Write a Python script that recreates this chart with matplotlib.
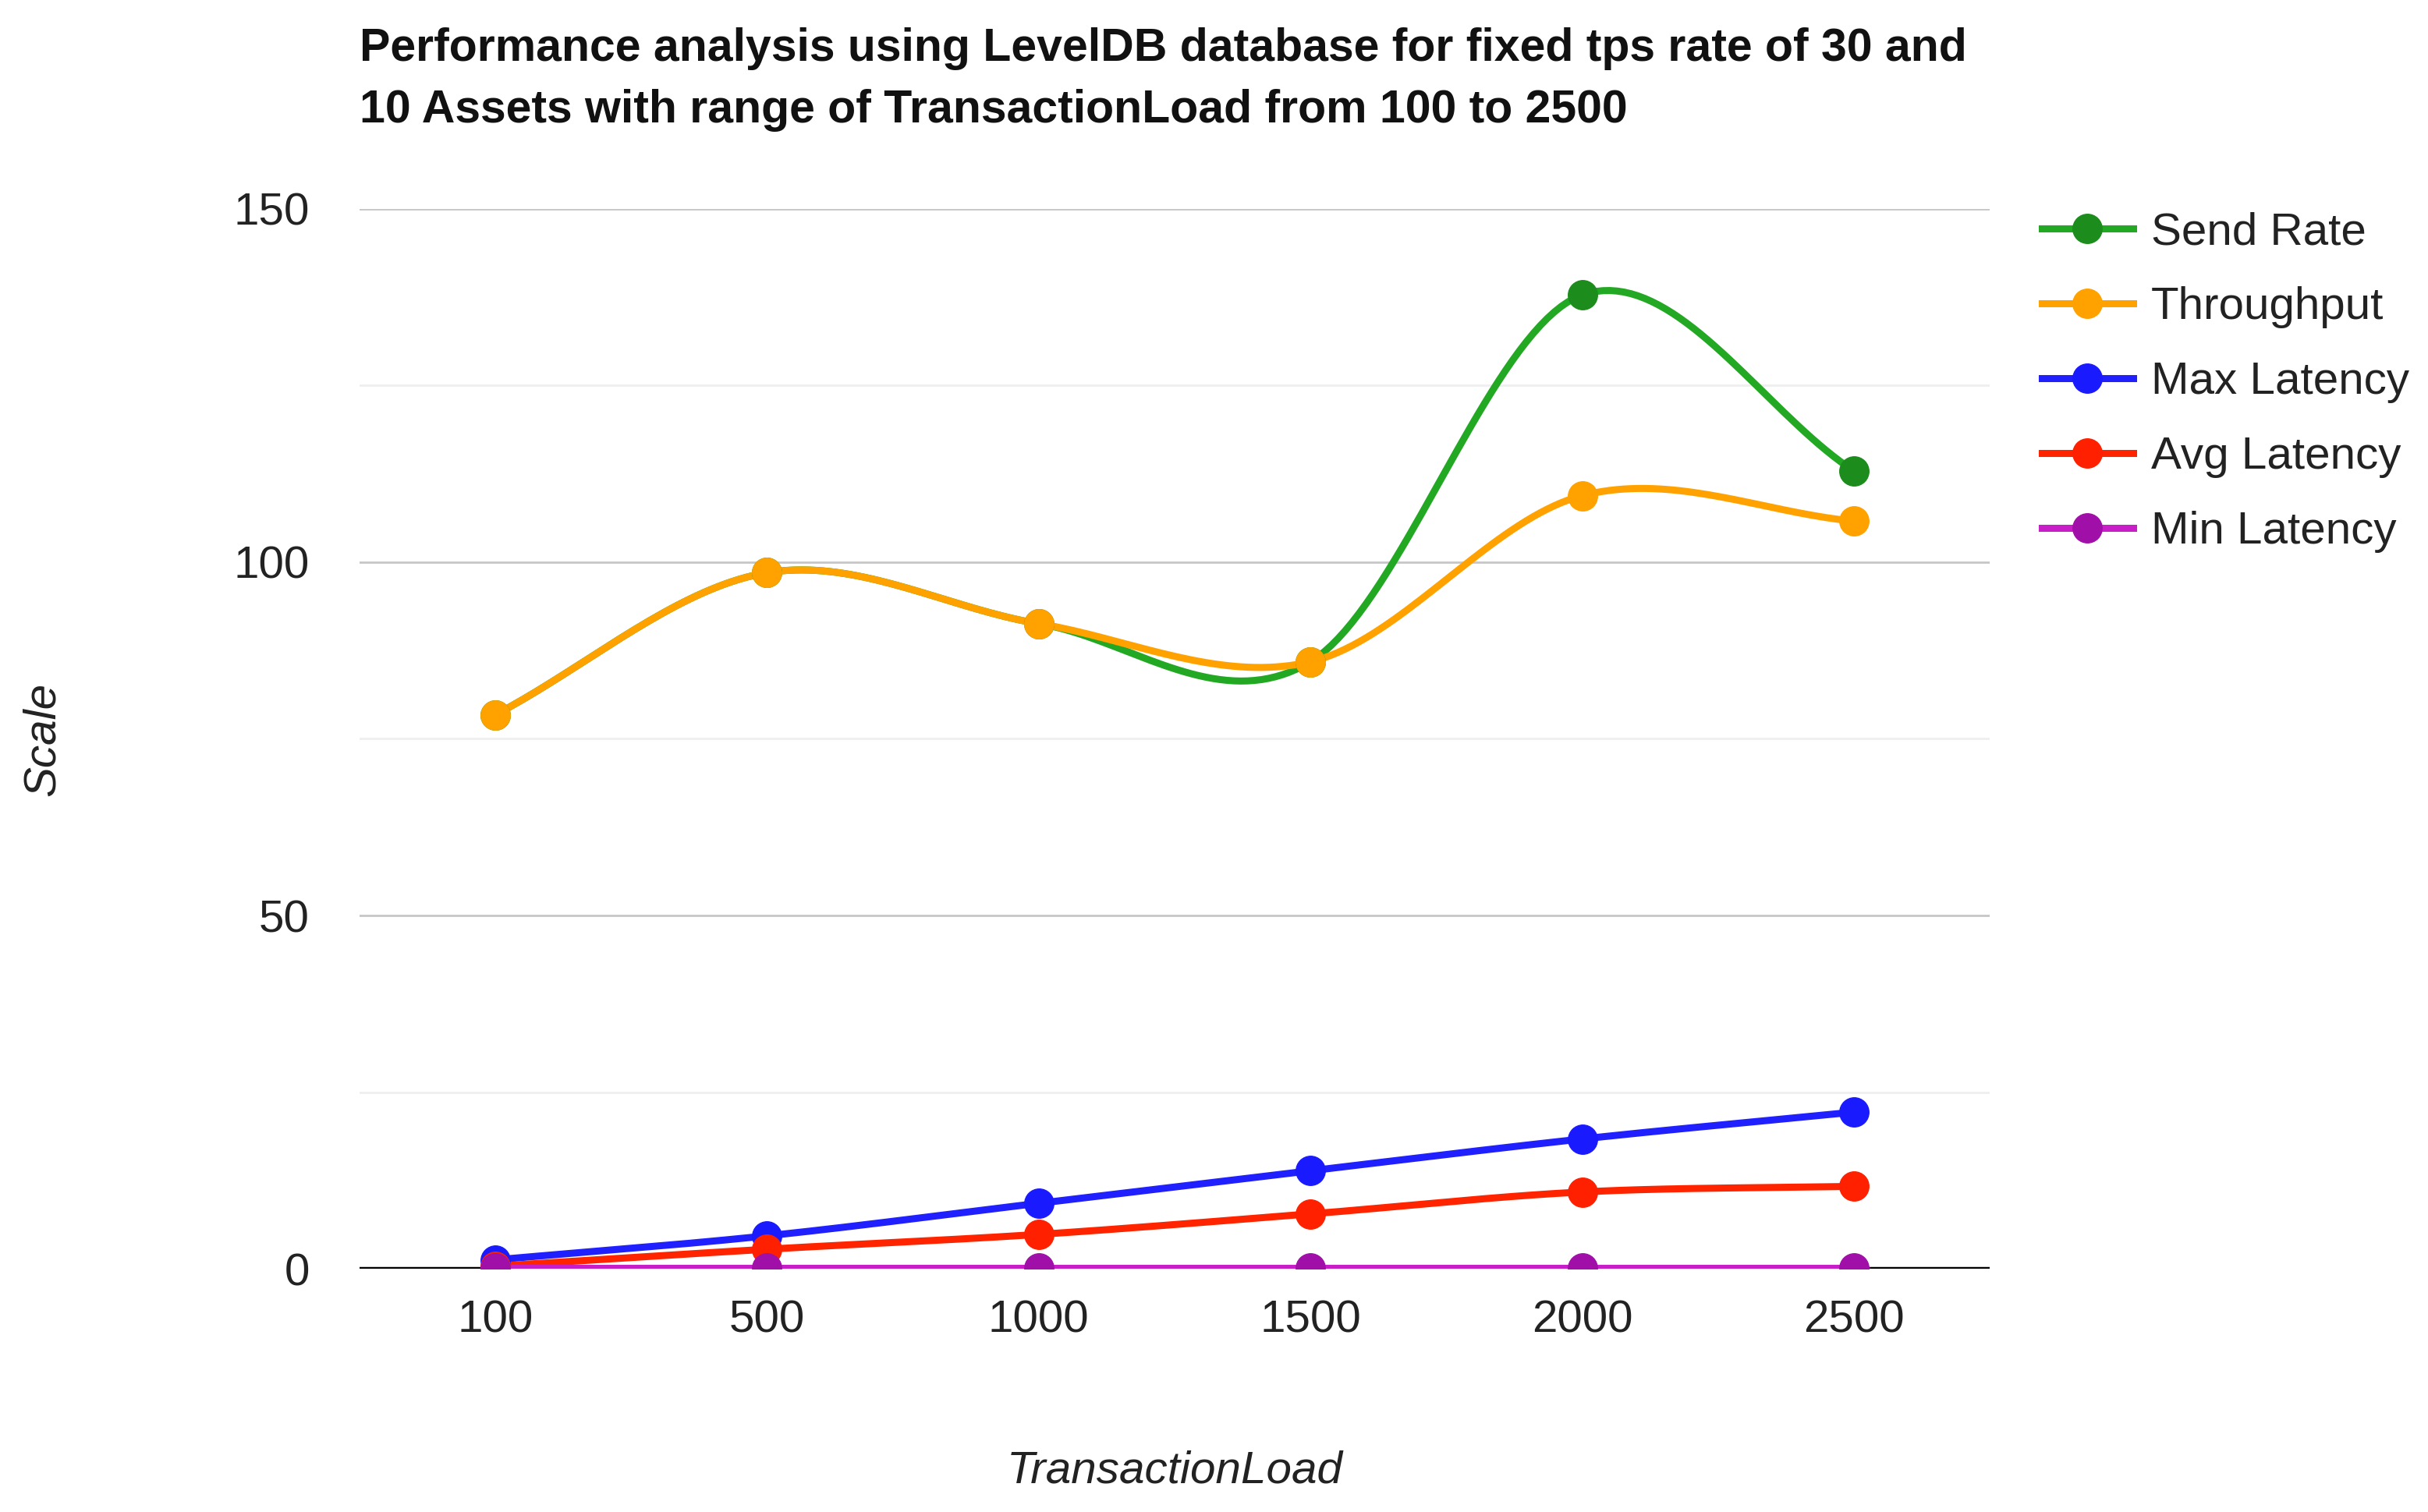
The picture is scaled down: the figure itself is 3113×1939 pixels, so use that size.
import numpy as np
import matplotlib
matplotlib.use('Agg')
import matplotlib.pyplot as plt

plt.rcParams['font.family'] = ['Liberation Sans', 'DejaVu Sans']

# data
loads = ['100', '500', '1000', '1500', '2000', '2500']
send_rate = [78.4, 98.5, 91.3, 85.9, 137.8, 112.9]
throughput = [78.4, 98.5, 91.3, 85.9, 109.4, 105.8]
max_latency = [1.3, 4.7, 9.3, 13.9, 18.4, 22.2]
avg_latency = [0.4, 2.8, 4.9, 7.8, 10.9, 11.7]
min_latency = [0.1, 0.1, 0.1, 0.1, 0.1, 0.1]

series = [
    ('Send Rate', send_rate, '#22a822', '#1c8c1c'),
    ('Throughput', throughput, '#ffa200', '#ffa200'),
    ('Max Latency', max_latency, '#2020ff', '#1a1aff'),
    ('Avg Latency', avg_latency, '#ff2400', '#ff2000'),
    ('Min Latency', min_latency, '#c81ec8', '#a010a8'),
]


def smooth(y, n=40):
    '''Catmull-Rom style curve through the points (like curveType function)'''
    y = np.asarray(y, dtype=float)
    x = np.arange(len(y), dtype=float)
    m = np.zeros_like(y)
    m[1:-1] = (y[2:] - y[:-2]) / 2
    m[0] = y[1] - y[0]
    m[-1] = y[-1] - y[-2]
    xs, ys = [], []
    for i in range(len(y) - 1):
        t = np.linspace(0, 1, n)
        h00 = 2 * t**3 - 3 * t**2 + 1
        h10 = t**3 - 2 * t**2 + t
        h01 = -2 * t**3 + 3 * t**2
        h11 = t**3 - t**2
        xs.append(x[i] + t)
        ys.append(h00 * y[i] + h10 * m[i] + h01 * y[i + 1] + h11 * m[i + 1])
    return np.concatenate(xs), np.concatenate(ys)


fig = plt.figure(figsize=(31.13, 19.39), dpi=100)
ax = fig.add_axes([0.148, 0.1607, 0.6715, 0.7013])

ax.set_xlim(-0.5, 5.5)
ax.set_ylim(0, 150)

# gridlines
for v in [25, 75, 125]:
    ax.axhline(v, color='#efefef', lw=2, zorder=0)
for v in [50, 100, 150]:
    ax.axhline(v, color='#c6c6c6', lw=2, zorder=0)

pos = np.arange(len(loads))
handles = []
for name, vals, lc, mc in series:
    sx, sy = smooth(vals)
    ax.plot(sx, sy, color=lc, lw=6.5, solid_capstyle='round', zorder=2)
    ax.plot(pos, vals, 'o', color=mc, ms=27, zorder=3)
    h, = ax.plot([], [], '-o', color=lc, mfc=mc, mec=mc, lw=6.5, ms=27, label=name)
    handles.append(h)

ax.axhline(0, color='#000000', lw=3.2, zorder=1)

ax.set_xticks(pos)
ax.set_xticklabels(loads)
ax.set_yticks([0, 50, 100, 150])
ax.tick_params(axis='both', length=0, labelsize=42, colors='#222222')
ax.tick_params(axis='y', pad=46)
ax.tick_params(axis='x', pad=28)
for s in ax.spines.values():
    s.set_visible(False)

fig.text(0.148, 0.982, 'Performance analysis using LevelDB database for fixed tps rate of 30 and\n'
         '10 Assets with range of TransactionLoad from 100 to 2500',
         ha='left', va='top', fontsize=42.5, fontweight='bold', color='#111111', linespacing=1.55)

fig.text(0.484, 0.027, 'TransactionLoad', ha='center', va='center', fontsize=42,
         style='italic', color='#222222')
fig.text(0.0175, 0.511, 'Scale', ha='center', va='center', rotation=90, fontsize=42,
         style='italic', color='#222222')

fig.legend(handles=handles, loc='upper left', bbox_to_anchor=(0.841, 0.860),
           frameon=False, fontsize=42, handlelength=2.0, handletextpad=0.4,
           labelspacing=0.72, borderpad=0, borderaxespad=0, labelcolor='#222222')

fig.savefig('out.png', dpi=100)
